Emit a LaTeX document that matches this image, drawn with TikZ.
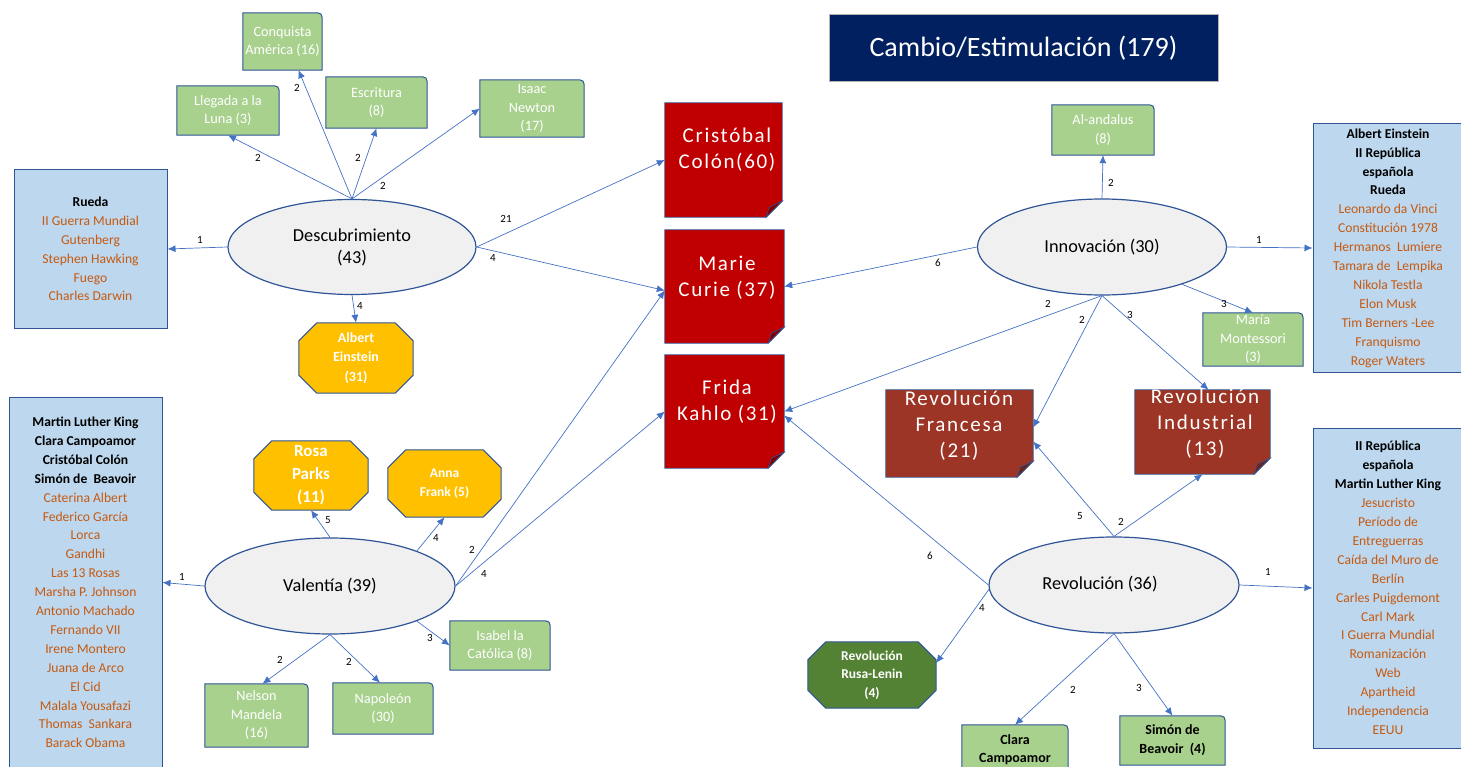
\documentclass[tikz,border=0pt]{standalone}
\usepackage{fontspec}
\setmainfont{Carlito}
\newfontfamily\spcfont{Carlito}[LetterSpace=8]
\usetikzlibrary{arrows.meta,shapes.geometric}
\pgfdeclarelayer{bg}\pgfsetlayers{bg,main}
\definecolor{edgeblue}{HTML}{4472C4}
\definecolor{bord}{HTML}{2F5597}
\definecolor{lblue}{HTML}{BDD7EE}
\definecolor{orng}{HTML}{C55A11}
\definecolor{gfill}{HTML}{A9D18E}
\definecolor{ygold}{HTML}{FFC000}
\definecolor{dgreen}{HTML}{548235}
\definecolor{pred}{HTML}{C00000}
\definecolor{pfold}{HTML}{7F0000}
\definecolor{brn}{HTML}{9C3525}
\definecolor{bfold}{HTML}{6B2418}
\definecolor{titlebg}{HTML}{002060}
\definecolor{ellfill}{HTML}{F0F0F0}
\newcommand\og[1]{\textcolor{orng}{#1}}
\tikzset{
  holder/.style={rectangle,inner sep=0pt,draw=none,fill=none},
  ell/.style={ellipse,draw=bord,line width=1.2pt,fill=ellfill,inner sep=0pt,align=center,font=\fontsize{18.3}{22}\selectfont},
  elltext/.style={holder,align=center,font=\fontsize{18.3}{22}\selectfont},
  arr/.style={draw=edgeblue,line width=0.7pt,-{Latex[length=8pt,width=7pt]}},
  lbl/.style={font=\fontsize{11}{12}\selectfont,inner sep=0pt},
  bluebox/.style={rectangle,draw=bord,line width=1pt,fill=lblue,align=center,inner sep=0pt,font=\fontsize{13.6}{18.9}\selectfont},
  gtext/.style={holder,align=center,text=white,font=\fontsize{14.3}{18.5}\selectfont},
  ptext/.style={holder,align=center,text=white,font=\spcfont\fontsize{21}{26}\selectfont},
  otext/.style={holder,align=center,text=white,font=\bfseries\fontsize{14}{19.5}\selectfont},
}
% green box with rounded top-right corner
\newcommand\gbox[6]{%
  \node[gtext,minimum width=#3,minimum height=#4,#5] (#1) at (#2) {#6};
  \begin{pgfonlayer}{bg}
  \filldraw[draw=bord,line width=1pt,fill=gfill] (#1.south west) -- (#1.north west) -- ([xshift=-10pt]#1.north east) .. controls (#1.north east) .. ([yshift=-10pt]#1.north east) -- (#1.south east) -- cycle;
  \end{pgfonlayer}}
% page with folded corner
\newcommand\rpage[6]{%
  \node[holder,minimum width=#3,minimum height=#4] (#1) at (#2) {};
  \begin{pgfonlayer}{bg}
  \filldraw[draw=bord,line width=0.8pt,fill=#5] (#1.south west) -- (#1.north west) -- (#1.north east) -- ([yshift=16pt]#1.south east) -- ([xshift=-16pt]#1.south east) -- cycle;
  \filldraw[draw=bord,line width=0.6pt,fill=#6] ([yshift=16pt]#1.south east) -- ([xshift=-16pt]#1.south east) -- ([xshift=-13pt,yshift=10pt]#1.south east) -- cycle;
  \end{pgfonlayer}}
% octagon
\newcommand\octo[8]{%
  \node[otext,minimum width=#3,minimum height=#4,#7] (#1) at (#2) {#8};
  \begin{pgfonlayer}{bg}
  \filldraw[draw=bord,line width=1pt,fill=#6] ([xshift=#5]#1.north west) -- ([xshift=-#5]#1.north east) -- ([yshift=-#5]#1.north east) -- ([yshift=#5]#1.south east) -- ([xshift=-#5]#1.south east) -- ([xshift=#5]#1.south west) -- ([yshift=#5]#1.south west) -- ([yshift=-#5]#1.north west) -- cycle;
  \end{pgfonlayer}}
\begin{document}
\begin{tikzpicture}[x=1pt,y=-1pt]
\useasboundingbox (0,0) rectangle (1461,767);

% title
\node[rectangle,fill=titlebg,draw=gray!60,line width=1pt,minimum width=389pt,minimum height=67pt,text=white,font=\fontsize{28}{30}\selectfont] (title) at (1023.5,48.5) {Cambio/Estimulación (179)};

% ---------- Descubrimiento ----------
\node[ell,minimum width=248pt,minimum height=95pt] (desc) at (352,247) {Descubrimiento\\(43)};
\node[bluebox,minimum width=153pt,minimum height=158pt] (lbox1) at (90.5,249) {\textbf{Rueda}\\\og{II Guerra Mundial}\\\og{Gutenberg}\\\og{Stephen Hawking}\\\og{Fuego}\\\og{Charles Darwin}};
\gbox{conq}{282.5,41.5}{79pt}{57pt}{}{Conquista\\América (16)}
\gbox{luna}{228,110.5}{102pt}{49pt}{}{Llegada a la\\Luna (3)}
\gbox{escr}{376.5,102.5}{101pt}{51pt}{}{Escritura\\(8)}
\gbox{newt}{532,108.5}{104pt}{57pt}{}{Isaac\\Newton\\(17)}
\octo{eins}{356,358}{114pt}{70pt}{18pt}{ygold}{}{Albert\\Einstein\\(31)}

% ---------- red pages ----------
\rpage{colon}{723.5,160}{117pt}{114pt}{pred}{pfold}
\node[ptext] (colon-t) at (727,150) {Cristóbal\\Colón(60)};
\rpage{curie}{724.5,286.5}{119pt}{113pt}{pred}{pfold}
\node[ptext] (curie-t) at (727,277.5) {Marie\\Curie (37)};
\rpage{frida}{724.5,411.5}{119pt}{113pt}{pred}{pfold}
\node[ptext] (frida-t) at (727,402) {Frida\\Kahlo (31)};
\rpage{franc}{959.5,433.5}{147pt}{87pt}{brn}{bfold}
\node[ptext] (franc-t) at (959,426) {Revolución\\Francesa\\(21)};
\rpage{indus}{1202.5,432}{135pt}{84pt}{brn}{bfold}
\node[ptext] (indus-t) at (1205,424) {Revolución\\Industrial\\(13)};

% ---------- Innovación ----------
\node[ell,minimum width=249pt,minimum height=96pt] (innov) at (1102,247) {Innovación (30)};
\gbox{anda}{1103,130}{102pt}{50pt}{}{Al-andalus\\(8)}
\node[bluebox,minimum width=150pt,minimum height=248pt] (rbox1) at (1388,248) {\textbf{Albert Einstein}\\\textbf{II República}\\\textbf{española}\\\textbf{Rueda}\\\og{Leonardo da Vinci}\\\og{Constitución 1978}\\\og{Hermanos\ \ Lumiere}\\\og{Tamara de\ \ Lempika}\\\og{Nikola Testla}\\\og{Elon Musk}\\\og{Tim Berners -Lee}\\\og{Franquismo}\\\og{Roger Waters}};
\gbox{mont}{1253,339.5}{100pt}{53pt}{}{María\\Montessori\\(3)}

% ---------- Revolución ----------
\node[ell,minimum width=250pt,minimum height=96pt] (revo) at (1114,585) {};
\node[elltext] (revo-t) at (1100,584) {Revolución (36)};
\node[bluebox,minimum width=150pt,minimum height=320pt] (rbox2) at (1388,588) {\textbf{II República}\\\textbf{española}\\\textbf{Martin Luther King}\\\og{Jesucristo}\\\og{Período de}\\\og{Entreguerras}\\\og{Caída del Muro de}\\\og{Berlín}\\\og{Carles Puigdemont}\\\og{Carl Mark}\\\og{I Guerra Mundial}\\\og{Romanización}\\\og{Web}\\\og{Apartheid}\\\og{Independencia}\\\og{EEUU}};
\octo{rusa}{872,675}{128pt}{66pt}{18pt}{dgreen}{font=\bfseries\fontsize{13.5}{18.5}\selectfont}{Revolución\\Rusa-Lenin\\(4)}
\gbox{clara}{1015,750}{106pt}{50pt}{text=black,font=\bfseries\fontsize{14}{18}\selectfont}{Clara\\Campoamor}
\gbox{simon}{1172.5,740.5}{105pt}{49pt}{text=black,font=\bfseries\fontsize{14}{19}\selectfont}{Simón de\\Beavoir\ \ (4)}

% ---------- Valentía ----------
\node[ell,minimum width=250pt,minimum height=96pt] (vale) at (330,586) {Valentía (39)};
\node[bluebox,minimum width=153pt,minimum height=371pt] (lbox2) at (85.5,582.5) {\textbf{Martin Luther King}\\\textbf{Clara Campoamor}\\\textbf{Cristóbal Colón}\\\textbf{Simón de\ \ Beavoir}\\\og{Caterina Albert}\\\og{Federico García}\\\og{Lorca}\\\og{Gandhi}\\\og{Las 13 Rosas}\\\og{Marsha P. Johnson}\\\og{Antonio Machado}\\\og{Fernando VII}\\\og{Irene Montero}\\\og{Juana de Arco}\\\og{El Cid}\\\og{Malala Yousafazi}\\\og{Thomas\ \ Sankara}\\\og{Barack Obama}};
\octo{rosa}{311,475.5}{114pt}{69pt}{18pt}{ygold}{font=\bfseries\fontsize{17}{23}\selectfont}{Rosa\\Parks\\(11)}
\octo{anna}{444.5,483.5}{113pt}{67pt}{18pt}{ygold}{font=\bfseries\fontsize{13.5}{19}\selectfont}{Anna\\Frank (5)}
\gbox{isab}{500,645.5}{100pt}{49pt}{}{Isabel la\\Católica (8)}
\gbox{nels}{256.5,715.5}{103pt}{63pt}{}{Nelson\\Mandela\\(16)}
\gbox{napo}{383,708.5}{100pt}{51pt}{}{Napoleón\\(30)}

% ---------- connectors ----------
\draw[arr] (desc.north) -- (luna.south) node[lbl] (e1) at (258,158) {2};
\draw[arr] (desc.north) -- ([xshift=16pt]conq.south) node[lbl] (e2) at (297,88) {2};
\draw[arr] (desc.north) -- (escr.south) node[lbl] (e3) at (358,158) {2};
\draw[arr] (desc.north) -- (newt.west) node[lbl] (e4) at (383,186) {2};
\draw[arr] (desc.west) -- (lbox1.east) node[lbl] (e5) at (200,240) {1};
\draw[arr] (desc.south) -- (eins.north) node[lbl] (e6) at (360,306) {4};
\draw[arr] (desc.east) -- (colon.west) node[lbl] (e7) at (506,219) {21};
\draw[arr] (desc.east) -- ([yshift=-4pt]curie.west) node[lbl] (e8) at (493,258) {4};

\draw[arr] (vale.west) -- (lbox2.east) node[lbl] (e9) at (182,577) {1};
\draw[arr] (vale.north) -- (rosa.south) node[lbl] (e10) at (328,520) {5};
\draw[arr] (vale.22) -- (anna.south) node[lbl] (e11) at (436,538) {4};
\draw[arr] (vale.east) -- ([yshift=-4pt]curie.west) node[lbl] (e12) at (472,550) {2};
\draw[arr] (vale.east) -- (frida.west) node[lbl] (e13) at (484,574) {4};
\draw[arr] (vale.-22) -- (isab.west) node[lbl] (e14) at (430,638) {3};
\draw[arr] (vale.south) -- ([xshift=6pt]nels.north) node[lbl] (e15) at (280,660) {2};
\draw[arr] (vale.south) -- ([xshift=-3pt]napo.north) node[lbl] (e16) at (349,662) {2};

\draw[arr] (innov.west) -- (curie.east) node[lbl] (e17) at (938,263) {6};
\draw[arr] (innov.north) -- (anda.south) node[lbl] (e18) at (1111,183) {2};
\draw[arr] (innov.east) -- (rbox1.west) node[lbl] (e19) at (1259,240) {1};
\draw[arr] (innov.south) -- (frida.east) node[lbl] (e20) at (1048,304) {2};
\draw[arr] (innov.south) -- ([yshift=6pt]franc.east) node[lbl] (e21) at (1082,320) {2};
\draw[arr] (innov.south) -- ([xshift=6pt]indus.north) node[lbl] (e22) at (1130,315) {3};
\draw[arr] (innov.-25) -- (mont.north) node[lbl] (e23) at (1224,304) {3};

\draw[arr] (revo.west) -- ([yshift=-4pt]frida.east) node[lbl] (e24) at (930,556) {6};
\draw[arr] (revo.north) -- ([yshift=-8pt]franc.east) node[lbl] (e25) at (1080,516) {5};
\draw[arr] (revo.north) -- (indus.south) node[lbl] (e26) at (1121,522) {2};
\draw[arr] (revo.east) -- (rbox2.west) node[lbl] (e27) at (1268,572) {1};
\draw[arr] (revo.182) -- ([yshift=12pt]rusa.east) node[lbl] (e28) at (982,608) {4};
\draw[arr] (revo.south) -- (clara.north) node[lbl] (e29) at (1073,690) {2};
\draw[arr] (revo.south) -- (simon.north) node[lbl] (e30) at (1139,688) {3};
\end{tikzpicture}
\end{document}
